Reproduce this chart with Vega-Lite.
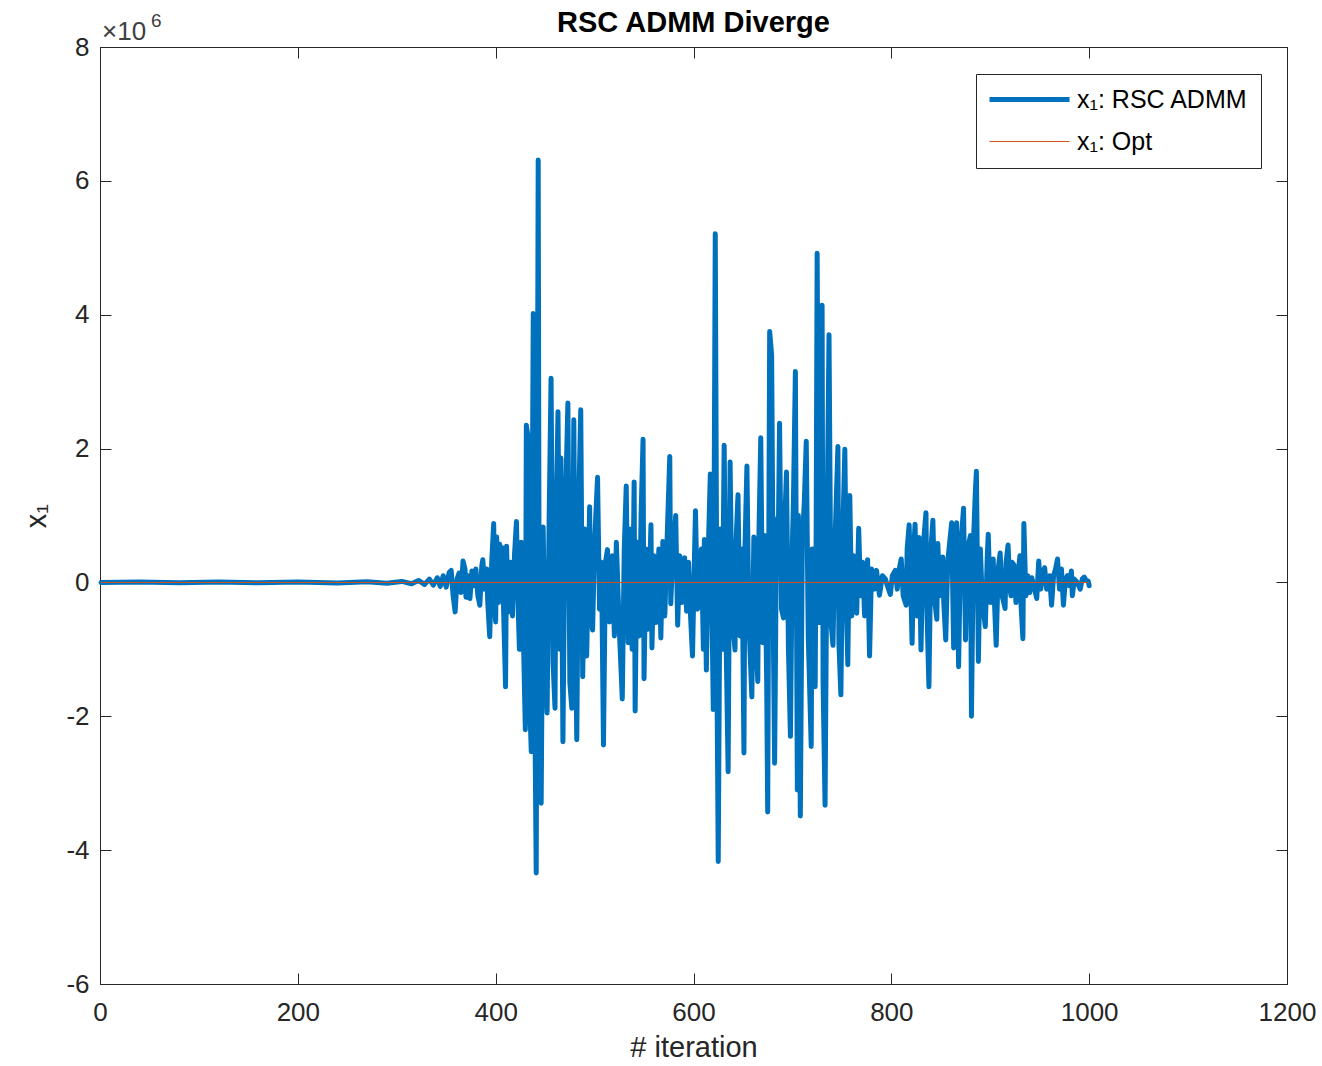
{
 "$schema": "https://vega.github.io/schema/vega-lite/v6.json",
 "width": 1187, "height": 937,
 "autosize": {"type": "none"},
 "padding": {"left": 100, "top": 47, "right": 35, "bottom": 82},
 "background": "white",
 "title": {"text": "RSC ADMM Diverge", "fontSize": 29, "fontWeight": "bold", "font": "Liberation Sans", "color": "#000000", "frame": "group", "offset": 12, "dy": 38, "anchor": "middle"},
 "config": {
  "font": "Liberation Sans",
  "view": {"stroke": "#262626", "strokeWidth": 1},
  "axis": {"grid": false, "domainColor": "#262626", "tickColor": "#262626", "labelColor": "#262626", "titleColor": "#262626", "labelFontSize": 26, "titleFontSize": 29, "titleFontWeight": "normal", "tickSize": -11, "labelFont": "Liberation Sans", "titleFont": "Liberation Sans", "domainWidth": 1, "tickWidth": 1, "labelFlush": false, "labelOverlap": false},
  "legend": {"title": null, "orient": "none", "legendX": 876, "legendY": 27, "symbolType": "stroke", "symbolSize": 6400, "symbolOffset": 28, "labelFontSize": 25, "labelColor": "#000000", "labelOffset": 35, "padding": 13, "rowPadding": 16, "strokeColor": "#262626", "fillColor": "white", "labelFont": "Liberation Sans", "labelLimit": 400}
 },
 "datasets": {
  "admm": [
   {"iter":1,"x1":0,"series":"x₁: RSC ADMM"},{"iter":40,"x1":0.005e6,"series":"x₁: RSC ADMM"},{"iter":80,"x1":-0.005e6,"series":"x₁: RSC ADMM"},{"iter":120,"x1":0.005e6,"series":"x₁: RSC ADMM"},{"iter":160,"x1":-0.005e6,"series":"x₁: RSC ADMM"},{"iter":200,"x1":0.008e6,"series":"x₁: RSC ADMM"},{"iter":240,"x1":-0.008e6,"series":"x₁: RSC ADMM"},{"iter":270,"x1":0.01e6,"series":"x₁: RSC ADMM"},{"iter":290,"x1":-0.012e6,"series":"x₁: RSC ADMM"},{"iter":305,"x1":0.015e6,"series":"x₁: RSC ADMM"},{"iter":315,"x1":-0.02e6,"series":"x₁: RSC ADMM"},{"iter":322,"x1":0.03e6,"series":"x₁: RSC ADMM"},{"iter":328,"x1":-0.03e6,"series":"x₁: RSC ADMM"},{"iter":333,"x1":0.05e6,"series":"x₁: RSC ADMM"},{"iter":337,"x1":-0.04e6,"series":"x₁: RSC ADMM"},{"iter":341,"x1":0.07e6,"series":"x₁: RSC ADMM"},{"iter":344,"x1":-0.06e6,"series":"x₁: RSC ADMM"},{"iter":347,"x1":0.1e6,"series":"x₁: RSC ADMM"},{"iter":350,"x1":-0.07e6,"series":"x₁: RSC ADMM"},{"iter":353,"x1":0.15e6,"series":"x₁: RSC ADMM"},{"iter":355,"x1":0.18e6,"series":"x₁: RSC ADMM"},{"iter":357,"x1":-0.2e6,"series":"x₁: RSC ADMM"},{"iter":359,"x1":-0.44e6,"series":"x₁: RSC ADMM"},{"iter":361,"x1":0.05e6,"series":"x₁: RSC ADMM"},{"iter":363,"x1":0.14e6,"series":"x₁: RSC ADMM"},{"iter":365,"x1":-0.15e6,"series":"x₁: RSC ADMM"},{"iter":367,"x1":0.32e6,"series":"x₁: RSC ADMM"},{"iter":369,"x1":0.2e6,"series":"x₁: RSC ADMM"},{"iter":370,"x1":-0.22e6,"series":"x₁: RSC ADMM"},{"iter":372,"x1":0.1e6,"series":"x₁: RSC ADMM"},{"iter":374,"x1":-0.24e6,"series":"x₁: RSC ADMM"},{"iter":376,"x1":0.17e6,"series":"x₁: RSC ADMM"},{"iter":378,"x1":-0.05e6,"series":"x₁: RSC ADMM"},{"iter":380,"x1":0.2e6,"series":"x₁: RSC ADMM"},{"iter":382,"x1":-0.2e6,"series":"x₁: RSC ADMM"},{"iter":384,"x1":-0.34e6,"series":"x₁: RSC ADMM"},{"iter":386,"x1":0.25e6,"series":"x₁: RSC ADMM"},{"iter":387,"x1":0.34e6,"series":"x₁: RSC ADMM"},{"iter":389,"x1":-0.1e6,"series":"x₁: RSC ADMM"},{"iter":391,"x1":0.2e6,"series":"x₁: RSC ADMM"},{"iter":392,"x1":-0.3e6,"series":"x₁: RSC ADMM"},{"iter":394,"x1":-0.81e6,"series":"x₁: RSC ADMM"},{"iter":396,"x1":0.3e6,"series":"x₁: RSC ADMM"},{"iter":398,"x1":0.88e6,"series":"x₁: RSC ADMM"},{"iter":399,"x1":-0.4e6,"series":"x₁: RSC ADMM"},{"iter":400,"x1":-0.59e6,"series":"x₁: RSC ADMM"},{"iter":401,"x1":0.68e6,"series":"x₁: RSC ADMM"},{"iter":403,"x1":-0.3e6,"series":"x₁: RSC ADMM"},{"iter":404,"x1":0.57e6,"series":"x₁: RSC ADMM"},{"iter":406,"x1":-0.2e6,"series":"x₁: RSC ADMM"},{"iter":407,"x1":0.52e6,"series":"x₁: RSC ADMM"},{"iter":408,"x1":-0.4e6,"series":"x₁: RSC ADMM"},{"iter":410,"x1":-1.56e6,"series":"x₁: RSC ADMM"},{"iter":411,"x1":0.54e6,"series":"x₁: RSC ADMM"},{"iter":413,"x1":-0.44e6,"series":"x₁: RSC ADMM"},{"iter":415,"x1":0.3e6,"series":"x₁: RSC ADMM"},{"iter":417,"x1":-0.5e6,"series":"x₁: RSC ADMM"},{"iter":419,"x1":0.4e6,"series":"x₁: RSC ADMM"},{"iter":421,"x1":0.91e6,"series":"x₁: RSC ADMM"},{"iter":423,"x1":-0.5e6,"series":"x₁: RSC ADMM"},{"iter":424,"x1":-1.0e6,"series":"x₁: RSC ADMM"},{"iter":426,"x1":0.6e6,"series":"x₁: RSC ADMM"},{"iter":428,"x1":-0.8e6,"series":"x₁: RSC ADMM"},{"iter":430,"x1":-2.2e6,"series":"x₁: RSC ADMM"},{"iter":431,"x1":2.35e6,"series":"x₁: RSC ADMM"},{"iter":433,"x1":2.15e6,"series":"x₁: RSC ADMM"},{"iter":434,"x1":-1.6e6,"series":"x₁: RSC ADMM"},{"iter":436,"x1":-2.53e6,"series":"x₁: RSC ADMM"},{"iter":437,"x1":1.0e6,"series":"x₁: RSC ADMM"},{"iter":438,"x1":4.02e6,"series":"x₁: RSC ADMM"},{"iter":440,"x1":-2.6e6,"series":"x₁: RSC ADMM"},{"iter":441,"x1":-4.34e6,"series":"x₁: RSC ADMM"},{"iter":443,"x1":6.31e6,"series":"x₁: RSC ADMM"},{"iter":444,"x1":-1.0e6,"series":"x₁: RSC ADMM"},{"iter":446,"x1":-3.3e6,"series":"x₁: RSC ADMM"},{"iter":448,"x1":0.83e6,"series":"x₁: RSC ADMM"},{"iter":450,"x1":-1.2e6,"series":"x₁: RSC ADMM"},{"iter":452,"x1":-1.95e6,"series":"x₁: RSC ADMM"},{"iter":454,"x1":0.9e6,"series":"x₁: RSC ADMM"},{"iter":456,"x1":3.05e6,"series":"x₁: RSC ADMM"},{"iter":458,"x1":-1.2e6,"series":"x₁: RSC ADMM"},{"iter":460,"x1":-1.88e6,"series":"x₁: RSC ADMM"},{"iter":461,"x1":0.8e6,"series":"x₁: RSC ADMM"},{"iter":463,"x1":2.55e6,"series":"x₁: RSC ADMM"},{"iter":465,"x1":-1.0e6,"series":"x₁: RSC ADMM"},{"iter":466,"x1":1.86e6,"series":"x₁: RSC ADMM"},{"iter":468,"x1":-2.38e6,"series":"x₁: RSC ADMM"},{"iter":470,"x1":0.8e6,"series":"x₁: RSC ADMM"},{"iter":473,"x1":2.68e6,"series":"x₁: RSC ADMM"},{"iter":475,"x1":-1.5e6,"series":"x₁: RSC ADMM"},{"iter":477,"x1":-1.88e6,"series":"x₁: RSC ADMM"},{"iter":479,"x1":2.43e6,"series":"x₁: RSC ADMM"},{"iter":480,"x1":0.3e6,"series":"x₁: RSC ADMM"},{"iter":482,"x1":-2.35e6,"series":"x₁: RSC ADMM"},{"iter":484,"x1":1.2e6,"series":"x₁: RSC ADMM"},{"iter":486,"x1":2.58e6,"series":"x₁: RSC ADMM"},{"iter":488,"x1":-1.41e6,"series":"x₁: RSC ADMM"},{"iter":490,"x1":0.8e6,"series":"x₁: RSC ADMM"},{"iter":492,"x1":-1.1e6,"series":"x₁: RSC ADMM"},{"iter":495,"x1":1.13e6,"series":"x₁: RSC ADMM"},{"iter":496,"x1":-0.5e6,"series":"x₁: RSC ADMM"},{"iter":498,"x1":-0.71e6,"series":"x₁: RSC ADMM"},{"iter":500,"x1":0.6e6,"series":"x₁: RSC ADMM"},{"iter":503,"x1":1.57e6,"series":"x₁: RSC ADMM"},{"iter":505,"x1":-0.4e6,"series":"x₁: RSC ADMM"},{"iter":507,"x1":0.3e6,"series":"x₁: RSC ADMM"},{"iter":509,"x1":-2.43e6,"series":"x₁: RSC ADMM"},{"iter":511,"x1":0.3e6,"series":"x₁: RSC ADMM"},{"iter":513,"x1":0.49e6,"series":"x₁: RSC ADMM"},{"iter":515,"x1":-0.59e6,"series":"x₁: RSC ADMM"},{"iter":518,"x1":0.4e6,"series":"x₁: RSC ADMM"},{"iter":520,"x1":-0.8e6,"series":"x₁: RSC ADMM"},
   {"iter":522,"x1":0.6e6,"series":"x₁: RSC ADMM"},{"iter":525,"x1":-0.7e6,"series":"x₁: RSC ADMM"},{"iter":528,"x1":-1.74e6,"series":"x₁: RSC ADMM"},{"iter":530,"x1":0.5e6,"series":"x₁: RSC ADMM"},{"iter":532,"x1":1.44e6,"series":"x₁: RSC ADMM"},{"iter":534,"x1":-0.9e6,"series":"x₁: RSC ADMM"},{"iter":536,"x1":0.8e6,"series":"x₁: RSC ADMM"},{"iter":538,"x1":-1.0e6,"series":"x₁: RSC ADMM"},{"iter":540,"x1":1.5e6,"series":"x₁: RSC ADMM"},{"iter":541,"x1":-1.92e6,"series":"x₁: RSC ADMM"},{"iter":543,"x1":0.6e6,"series":"x₁: RSC ADMM"},{"iter":545,"x1":-0.8e6,"series":"x₁: RSC ADMM"},{"iter":547,"x1":1.0e6,"series":"x₁: RSC ADMM"},{"iter":549,"x1":2.14e6,"series":"x₁: RSC ADMM"},{"iter":550,"x1":-1.44e6,"series":"x₁: RSC ADMM"},{"iter":552,"x1":0.5e6,"series":"x₁: RSC ADMM"},{"iter":554,"x1":-0.7e6,"series":"x₁: RSC ADMM"},{"iter":557,"x1":0.86e6,"series":"x₁: RSC ADMM"},{"iter":558,"x1":-0.98e6,"series":"x₁: RSC ADMM"},{"iter":560,"x1":0.4e6,"series":"x₁: RSC ADMM"},{"iter":562,"x1":-0.6e6,"series":"x₁: RSC ADMM"},{"iter":565,"x1":0.5e6,"series":"x₁: RSC ADMM"},{"iter":567,"x1":-0.83e6,"series":"x₁: RSC ADMM"},{"iter":569,"x1":0.61e6,"series":"x₁: RSC ADMM"},{"iter":571,"x1":-0.5e6,"series":"x₁: RSC ADMM"},{"iter":573,"x1":0.5e6,"series":"x₁: RSC ADMM"},{"iter":576,"x1":1.88e6,"series":"x₁: RSC ADMM"},{"iter":577,"x1":-0.32e6,"series":"x₁: RSC ADMM"},{"iter":579,"x1":0.4e6,"series":"x₁: RSC ADMM"},{"iter":582,"x1":1.0e6,"series":"x₁: RSC ADMM"},{"iter":584,"x1":-0.64e6,"series":"x₁: RSC ADMM"},{"iter":586,"x1":0.4e6,"series":"x₁: RSC ADMM"},{"iter":588,"x1":-0.3e6,"series":"x₁: RSC ADMM"},{"iter":591,"x1":0.37e6,"series":"x₁: RSC ADMM"},{"iter":593,"x1":-0.43e6,"series":"x₁: RSC ADMM"},{"iter":595,"x1":0.3e6,"series":"x₁: RSC ADMM"},{"iter":597,"x1":-0.5e6,"series":"x₁: RSC ADMM"},{"iter":599,"x1":-1.1e6,"series":"x₁: RSC ADMM"},{"iter":601,"x1":0.4e6,"series":"x₁: RSC ADMM"},{"iter":602,"x1":1.07e6,"series":"x₁: RSC ADMM"},{"iter":604,"x1":-0.4e6,"series":"x₁: RSC ADMM"},{"iter":606,"x1":-0.29e6,"series":"x₁: RSC ADMM"},{"iter":608,"x1":0.5e6,"series":"x₁: RSC ADMM"},{"iter":610,"x1":-1.0e6,"series":"x₁: RSC ADMM"},{"iter":611,"x1":0.64e6,"series":"x₁: RSC ADMM"},{"iter":613,"x1":-1.31e6,"series":"x₁: RSC ADMM"},{"iter":615,"x1":0.5e6,"series":"x₁: RSC ADMM"},{"iter":617,"x1":1.62e6,"series":"x₁: RSC ADMM"},{"iter":619,"x1":-0.8e6,"series":"x₁: RSC ADMM"},{"iter":620,"x1":-1.9e6,"series":"x₁: RSC ADMM"},{"iter":622,"x1":5.21e6,"series":"x₁: RSC ADMM"},{"iter":624,"x1":-2.0e6,"series":"x₁: RSC ADMM"},{"iter":625,"x1":-4.17e6,"series":"x₁: RSC ADMM"},{"iter":627,"x1":0.8e6,"series":"x₁: RSC ADMM"},{"iter":629,"x1":-1.0e6,"series":"x₁: RSC ADMM"},{"iter":631,"x1":2.05e6,"series":"x₁: RSC ADMM"},{"iter":633,"x1":-0.9e6,"series":"x₁: RSC ADMM"},{"iter":635,"x1":-2.83e6,"series":"x₁: RSC ADMM"},{"iter":637,"x1":1.8e6,"series":"x₁: RSC ADMM"},{"iter":639,"x1":-0.5e6,"series":"x₁: RSC ADMM"},{"iter":642,"x1":-1.01e6,"series":"x₁: RSC ADMM"},{"iter":643,"x1":0.6e6,"series":"x₁: RSC ADMM"},{"iter":645,"x1":1.31e6,"series":"x₁: RSC ADMM"},{"iter":647,"x1":-0.8e6,"series":"x₁: RSC ADMM"},{"iter":649,"x1":0.5e6,"series":"x₁: RSC ADMM"},{"iter":651,"x1":-2.55e6,"series":"x₁: RSC ADMM"},{"iter":652,"x1":0.5e6,"series":"x₁: RSC ADMM"},{"iter":654,"x1":1.74e6,"series":"x₁: RSC ADMM"},{"iter":656,"x1":-0.6e6,"series":"x₁: RSC ADMM"},{"iter":659,"x1":-1.71e6,"series":"x₁: RSC ADMM"},{"iter":661,"x1":0.68e6,"series":"x₁: RSC ADMM"},{"iter":663,"x1":-0.8e6,"series":"x₁: RSC ADMM"},{"iter":665,"x1":-1.48e6,"series":"x₁: RSC ADMM"},{"iter":666,"x1":0.6e6,"series":"x₁: RSC ADMM"},{"iter":668,"x1":2.16e6,"series":"x₁: RSC ADMM"},{"iter":670,"x1":-0.9e6,"series":"x₁: RSC ADMM"},{"iter":672,"x1":0.7e6,"series":"x₁: RSC ADMM"},{"iter":674,"x1":-1.5e6,"series":"x₁: RSC ADMM"},{"iter":675,"x1":-3.43e6,"series":"x₁: RSC ADMM"},{"iter":677,"x1":3.75e6,"series":"x₁: RSC ADMM"},{"iter":679,"x1":3.4e6,"series":"x₁: RSC ADMM"},{"iter":681,"x1":-1.2e6,"series":"x₁: RSC ADMM"},{"iter":682,"x1":-2.7e6,"series":"x₁: RSC ADMM"},{"iter":684,"x1":0.9e6,"series":"x₁: RSC ADMM"},{"iter":686,"x1":1.0e6,"series":"x₁: RSC ADMM"},{"iter":687,"x1":2.38e6,"series":"x₁: RSC ADMM"},{"iter":689,"x1":-0.4e6,"series":"x₁: RSC ADMM"},{"iter":691,"x1":-0.53e6,"series":"x₁: RSC ADMM"},{"iter":692,"x1":0.8e6,"series":"x₁: RSC ADMM"},{"iter":694,"x1":1.65e6,"series":"x₁: RSC ADMM"},{"iter":696,"x1":-1.0e6,"series":"x₁: RSC ADMM"},{"iter":698,"x1":-2.3e6,"series":"x₁: RSC ADMM"},{"iter":700,"x1":0.6e6,"series":"x₁: RSC ADMM"},{"iter":701,"x1":1.2e6,"series":"x₁: RSC ADMM"},{"iter":703,"x1":3.15e6,"series":"x₁: RSC ADMM"},{"iter":705,"x1":-3.1e6,"series":"x₁: RSC ADMM"},{"iter":706,"x1":1.0e6,"series":"x₁: RSC ADMM"},{"iter":708,"x1":-3.49e6,"series":"x₁: RSC ADMM"},{"iter":710,"x1":0.6e6,"series":"x₁: RSC ADMM"},{"iter":712,"x1":1.2e6,"series":"x₁: RSC ADMM"},{"iter":714,"x1":2.11e6,"series":"x₁: RSC ADMM"},{"iter":716,"x1":-0.8e6,"series":"x₁: RSC ADMM"},{"iter":719,"x1":-2.45e6,"series":"x₁: RSC ADMM"},{"iter":720,"x1":0.5e6,"series":"x₁: RSC ADMM"},{"iter":721,"x1":-0.4e6,"series":"x₁: RSC ADMM"},{"iter":723,"x1":-1.56e6,"series":"x₁: RSC ADMM"},{"iter":724,"x1":0.8e6,"series":"x₁: RSC ADMM"},{"iter":725,"x1":4.92e6,"series":"x₁: RSC ADMM"},{"iter":727,"x1":-0.6e6,"series":"x₁: RSC ADMM"},{"iter":729,"x1":1.2e6,"series":"x₁: RSC ADMM"},{"iter":730,"x1":4.14e6,"series":"x₁: RSC ADMM"},{"iter":731,"x1":-1.5e6,"series":"x₁: RSC ADMM"},{"iter":733,"x1":-3.33e6,"series":"x₁: RSC ADMM"},{"iter":735,"x1":0.8e6,"series":"x₁: RSC ADMM"},{"iter":737,"x1":3.7e6,"series":"x₁: RSC ADMM"},{"iter":739,"x1":-0.6e6,"series":"x₁: RSC ADMM"},{"iter":741,"x1":-0.94e6,"series":"x₁: RSC ADMM"},{"iter":743,"x1":0.6e6,"series":"x₁: RSC ADMM"},{"iter":746,"x1":2.03e6,"series":"x₁: RSC ADMM"},{"iter":747,"x1":-0.9e6,"series":"x₁: RSC ADMM"},{"iter":749,"x1":-1.68e6,"series":"x₁: RSC ADMM"},{"iter":751,"x1":0.8e6,"series":"x₁: RSC ADMM"},{"iter":753,"x1":1.99e6,"series":"x₁: RSC ADMM"},{"iter":755,"x1":-0.6e6,"series":"x₁: RSC ADMM"},{"iter":756,"x1":-1.23e6,"series":"x₁: RSC ADMM"},{"iter":758,"x1":1.3e6,"series":"x₁: RSC ADMM"},{"iter":760,"x1":-0.5e6,"series":"x₁: RSC ADMM"},{"iter":762,"x1":0.4e6,"series":"x₁: RSC ADMM"},{"iter":765,"x1":-0.46e6,"series":"x₁: RSC ADMM"},{"iter":767,"x1":0.81e6,"series":"x₁: RSC ADMM"},{"iter":769,"x1":-0.2e6,"series":"x₁: RSC ADMM"},{"iter":771,"x1":0.3e6,"series":"x₁: RSC ADMM"},{"iter":773,"x1":-0.5e6,"series":"x₁: RSC ADMM"},{"iter":776,"x1":0.34e6,"series":"x₁: RSC ADMM"},{"iter":778,"x1":-1.1e6,"series":"x₁: RSC ADMM"},{"iter":780,"x1":0.2e6,"series":"x₁: RSC ADMM"},{"iter":783,"x1":-0.1e6,"series":"x₁: RSC ADMM"},{"iter":785,"x1":0.18e6,"series":"x₁: RSC ADMM"},{"iter":788,"x1":-0.19e6,"series":"x₁: RSC ADMM"},{"iter":791,"x1":0.1e6,"series":"x₁: RSC ADMM"},{"iter":794,"x1":0.05e6,"series":"x₁: RSC ADMM"},{"iter":796,"x1":-0.05e6,"series":"x₁: RSC ADMM"},{"iter":799,"x1":-0.18e6,"series":"x₁: RSC ADMM"},{"iter":801,"x1":0.1e6,"series":"x₁: RSC ADMM"},{"iter":804,"x1":0.18e6,"series":"x₁: RSC ADMM"},{"iter":806,"x1":-0.1e6,"series":"x₁: RSC ADMM"},{"iter":808,"x1":0.2e6,"series":"x₁: RSC ADMM"},{"iter":810,"x1":0.35e6,"series":"x₁: RSC ADMM"},{"iter":812,"x1":-0.2e6,"series":"x₁: RSC ADMM"},{"iter":815,"x1":-0.34e6,"series":"x₁: RSC ADMM"},{"iter":816,"x1":0.5e6,"series":"x₁: RSC ADMM"},{"iter":818,"x1":0.86e6,"series":"x₁: RSC ADMM"},{"iter":820,"x1":-0.3e6,"series":"x₁: RSC ADMM"},{"iter":821,"x1":-0.91e6,"series":"x₁: RSC ADMM"},{"iter":823,"x1":0.6e6,"series":"x₁: RSC ADMM"},{"iter":824,"x1":0.87e6,"series":"x₁: RSC ADMM"},{"iter":826,"x1":-0.5e6,"series":"x₁: RSC ADMM"},{"iter":828,"x1":0.67e6,"series":"x₁: RSC ADMM"},{"iter":830,"x1":-1.01e6,"series":"x₁: RSC ADMM"},{"iter":832,"x1":0.5e6,"series":"x₁: RSC ADMM"},{"iter":835,"x1":1.04e6,"series":"x₁: RSC ADMM"},{"iter":836,"x1":-0.4e6,"series":"x₁: RSC ADMM"},{"iter":838,"x1":-1.56e6,"series":"x₁: RSC ADMM"},{"iter":840,"x1":0.5e6,"series":"x₁: RSC ADMM"},{"iter":842,"x1":0.93e6,"series":"x₁: RSC ADMM"},{"iter":844,"x1":-0.3e6,"series":"x₁: RSC ADMM"},{"iter":846,"x1":-0.55e6,"series":"x₁: RSC ADMM"},{"iter":847,"x1":0.58e6,"series":"x₁: RSC ADMM"},{"iter":849,"x1":-0.2e6,"series":"x₁: RSC ADMM"},{"iter":852,"x1":0.38e6,"series":"x₁: RSC ADMM"},{"iter":853,"x1":-0.3e6,"series":"x₁: RSC ADMM"},{"iter":855,"x1":-0.86e6,"series":"x₁: RSC ADMM"},{"iter":857,"x1":0.3e6,"series":"x₁: RSC ADMM"},{"iter":859,"x1":0.6e6,"series":"x₁: RSC ADMM"},{"iter":861,"x1":0.89e6,"series":"x₁: RSC ADMM"},{"iter":863,"x1":-0.98e6,"series":"x₁: RSC ADMM"},{"iter":864,"x1":0.5e6,"series":"x₁: RSC ADMM"},{"iter":866,"x1":0.89e6,"series":"x₁: RSC ADMM"},{"iter":868,"x1":-1.26e6,"series":"x₁: RSC ADMM"},{"iter":870,"x1":0.5e6,"series":"x₁: RSC ADMM"},{"iter":873,"x1":1.11e6,"series":"x₁: RSC ADMM"},{"iter":875,"x1":-0.86e6,"series":"x₁: RSC ADMM"},{"iter":877,"x1":0.5e6,"series":"x₁: RSC ADMM"},{"iter":880,"x1":0.7e6,"series":"x₁: RSC ADMM"},{"iter":881,"x1":-2.0e6,"series":"x₁: RSC ADMM"},{"iter":883,"x1":0.6e6,"series":"x₁: RSC ADMM"},{"iter":885,"x1":1.38e6,"series":"x₁: RSC ADMM"},{"iter":886,"x1":1.66e6,"series":"x₁: RSC ADMM"},{"iter":888,"x1":-1.18e6,"series":"x₁: RSC ADMM"},{"iter":890,"x1":0.5e6,"series":"x₁: RSC ADMM"},{"iter":892,"x1":-0.3e6,"series":"x₁: RSC ADMM"},{"iter":895,"x1":-0.66e6,"series":"x₁: RSC ADMM"},{"iter":897,"x1":0.4e6,"series":"x₁: RSC ADMM"},{"iter":898,"x1":0.72e6,"series":"x₁: RSC ADMM"},{"iter":900,"x1":-0.3e6,"series":"x₁: RSC ADMM"},{"iter":903,"x1":0.35e6,"series":"x₁: RSC ADMM"},{"iter":904,"x1":-0.2e6,"series":"x₁: RSC ADMM"},{"iter":906,"x1":-0.94e6,"series":"x₁: RSC ADMM"},{"iter":908,"x1":0.2e6,"series":"x₁: RSC ADMM"},{"iter":910,"x1":0.44e6,"series":"x₁: RSC ADMM"},{"iter":912,"x1":-0.2e6,"series":"x₁: RSC ADMM"},{"iter":915,"x1":-0.39e6,"series":"x₁: RSC ADMM"},{"iter":916,"x1":0.3e6,"series":"x₁: RSC ADMM"},{"iter":918,"x1":0.56e6,"series":"x₁: RSC ADMM"},{"iter":920,"x1":-0.1e6,"series":"x₁: RSC ADMM"},{"iter":921,"x1":-0.2e6,"series":"x₁: RSC ADMM"},{"iter":922,"x1":0.3e6,"series":"x₁: RSC ADMM"},{"iter":924,"x1":0.26e6,"series":"x₁: RSC ADMM"},{"iter":926,"x1":-0.3e6,"series":"x₁: RSC ADMM"},{"iter":928,"x1":0.1e6,"series":"x₁: RSC ADMM"},{"iter":930,"x1":0.4e6,"series":"x₁: RSC ADMM"},{"iter":931,"x1":-0.3e6,"series":"x₁: RSC ADMM"},{"iter":933,"x1":-0.84e6,"series":"x₁: RSC ADMM"},{"iter":934,"x1":0.88e6,"series":"x₁: RSC ADMM"},{"iter":936,"x1":-0.2e6,"series":"x₁: RSC ADMM"},{"iter":938,"x1":0.1e6,"series":"x₁: RSC ADMM"},{"iter":940,"x1":-0.15e6,"series":"x₁: RSC ADMM"},{"iter":942,"x1":0.07e6,"series":"x₁: RSC ADMM"},{"iter":944,"x1":-0.05e6,"series":"x₁: RSC ADMM"},{"iter":947,"x1":-0.24e6,"series":"x₁: RSC ADMM"},{"iter":949,"x1":0.32e6,"series":"x₁: RSC ADMM"},{"iter":951,"x1":-0.1e6,"series":"x₁: RSC ADMM"},{"iter":953,"x1":0.15e6,"series":"x₁: RSC ADMM"},{"iter":955,"x1":0.22e6,"series":"x₁: RSC ADMM"},{"iter":957,"x1":-0.1e6,"series":"x₁: RSC ADMM"},{"iter":960,"x1":0.1e6,"series":"x₁: RSC ADMM"},{"iter":962,"x1":-0.34e6,"series":"x₁: RSC ADMM"},{"iter":964,"x1":0.1e6,"series":"x₁: RSC ADMM"},{"iter":966,"x1":0.2e6,"series":"x₁: RSC ADMM"},{"iter":968,"x1":0.35e6,"series":"x₁: RSC ADMM"},{"iter":970,"x1":-0.1e6,"series":"x₁: RSC ADMM"},{"iter":972,"x1":0.2e6,"series":"x₁: RSC ADMM"},{"iter":974,"x1":-0.34e6,"series":"x₁: RSC ADMM"},{"iter":976,"x1":0.05e6,"series":"x₁: RSC ADMM"},{"iter":978,"x1":0.1e6,"series":"x₁: RSC ADMM"},{"iter":980,"x1":-0.05e6,"series":"x₁: RSC ADMM"},{"iter":982,"x1":0.17e6,"series":"x₁: RSC ADMM"},{"iter":983,"x1":-0.2e6,"series":"x₁: RSC ADMM"},{"iter":985,"x1":0.05e6,"series":"x₁: RSC ADMM"},{"iter":988,"x1":0.0,"series":"x₁: RSC ADMM"},{"iter":991,"x1":-0.1e6,"series":"x₁: RSC ADMM"},{"iter":993,"x1":0.05e6,"series":"x₁: RSC ADMM"},{"iter":995,"x1":0.08e6,"series":"x₁: RSC ADMM"},{"iter":997,"x1":0.03e6,"series":"x₁: RSC ADMM"},{"iter":999,"x1":0.02e6,"series":"x₁: RSC ADMM"},{"iter":1000,"x1":-0.05e6,"series":"x₁: RSC ADMM"}
  ],
  "opt": [{"iter": 1, "x1": 0, "series": "x₁: Opt"}, {"iter": 1000, "x1": 0, "series": "x₁: Opt"}]
 },
 "layer": [
  {
   "data": {"name": "admm"},
   "mark": {"type": "line", "strokeWidth": 5, "strokeJoin": "round", "strokeCap": "round"},
   "encoding": {
    "x": {"field": "iter", "type": "quantitative", "scale": {"domain": [0, 1200], "nice": false, "zero": false},
          "axis": {"values": [0, 200, 400, 600, 800, 1000, 1200], "format": "d", "title": "# iteration", "labelPadding": 26, "titlePadding": 8}},
    "y": {"field": "x1", "type": "quantitative", "scale": {"domain": [-6000000, 8000000], "nice": false, "zero": false},
          "axis": {"values": [-6000000, -4000000, -2000000, 0, 2000000, 4000000, 6000000, 8000000], "labelExpr": "toString(datum.value/1000000)", "title": "x₁", "labelPadding": 22, "titlePadding": 14}},
    "color": {"field": "series", "type": "nominal", "scale": {"domain": ["x₁: RSC ADMM", "x₁: Opt"], "range": ["#0072BD", "#D95319"]},
              "legend": {"title": null, "encode": {"symbols": {"update": {"strokeWidth": {"signal": "datum.value === 'x₁: RSC ADMM' ? 5 : 1.2"}, "opacity": {"value": 1}}}}}}
   }
  },
  {
   "data": {"name": "opt"},
   "mark": {"type": "line", "strokeWidth": 1},
   "encoding": {
    "x": {"field": "iter", "type": "quantitative", "scale": {"domain": [0, 1200], "nice": false, "zero": false},
          "axis": {"orient": "top", "values": [0, 200, 400, 600, 800, 1000, 1200], "labels": false, "title": null}},
    "y": {"field": "x1", "type": "quantitative", "scale": {"domain": [-6000000, 8000000], "nice": false, "zero": false},
          "axis": {"orient": "right", "values": [-6000000, -4000000, -2000000, 0, 2000000, 4000000, 6000000, 8000000], "labels": false, "title": null}},
    "color": {"field": "series", "type": "nominal"}
   }
  },
  {
   "data": {"values": [{"label": "×10"}]},
   "mark": {"type": "text", "align": "left", "baseline": "alphabetic", "dx": 2, "dy": -7, "fontSize": 26, "color": "#404040", "font": "Liberation Sans"},
   "encoding": {
    "x": {"datum": 0, "type": "quantitative", "axis": null},
    "y": {"datum": 8000000, "type": "quantitative", "axis": null},
    "text": {"field": "label"}
   }
  },
  {
   "data": {"values": [{"label": "6"}]},
   "mark": {"type": "text", "align": "left", "baseline": "alphabetic", "dx": 51, "dy": -20, "fontSize": 19, "color": "#404040", "font": "Liberation Sans"},
   "encoding": {
    "x": {"datum": 0, "type": "quantitative", "axis": null},
    "y": {"datum": 8000000, "type": "quantitative", "axis": null},
    "text": {"field": "label"}
   }
  }
 ],
 "resolve": {"axis": {"x": "independent", "y": "independent"}}
}
